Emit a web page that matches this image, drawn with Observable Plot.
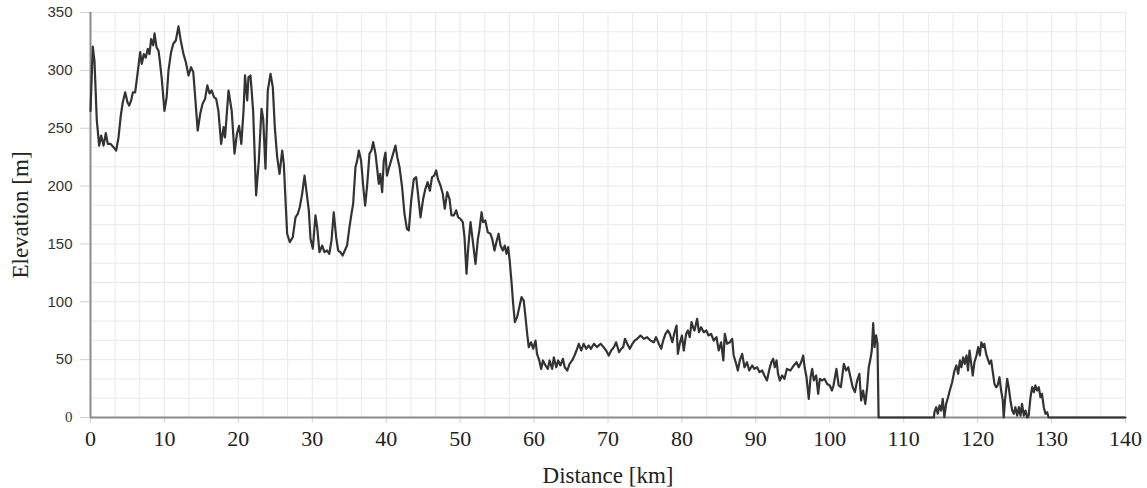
<!DOCTYPE html>
<html><head><meta charset="utf-8">
<script src="https://cdn.jsdelivr.net/npm/d3@7"></script>
<script src="https://cdn.jsdelivr.net/npm/@observablehq/plot@0.6"></script>
<style>html,body{margin:0;padding:0;background:#fff}#chart{width:1147px;height:488px}</style>
</head><body><div id="chart"></div>
<script>
const distanceKm = [
0,0.31,0.54,0.85,1.17,1.44,1.76,2.07,2.34,2.7,3.11,3.47,3.79,4.1,4.37,4.69,5.0,5.23,5.5,5.73,6.04,6.36,6.72,6.94,7.21,7.48,7.75,7.98,8.2,8.48,8.66,8.93,9.2,9.37,9.64,10.0,10.3,10.55,10.9,11.2,11.54,11.9,12.2,12.58,12.9,13.26,13.6,13.9,14.16,14.5,14.84,15.15,15.5,15.8,16.1,16.4,16.7,17.0,17.3,17.67,18.0,18.2,18.67,19.1,19.48,19.8,20.1,20.4,20.7,20.9,21.2,21.37,
21.64,22.0,22.4,22.77,23.13,23.36,23.67,23.98,24.35,24.66,24.93,25.25,25.57,25.93,26.15,26.38,26.6,26.96,27.36,27.73,28.04,28.3,28.63,28.95,29.2,29.53,29.76,30.07,30.43,30.66,30.97,31.34,31.65,32.0,32.3,32.6,32.9,33.23,33.5,33.8,34.1,34.4,34.7,35.03,35.3,35.53,35.84,36.07,36.3,36.6,36.9,37.15,37.4,37.74,38.0,38.24,38.55,38.8,39.0,39.2,39.45,39.67,39.9,40.1,40.4,40.8,41.25,41.5,41.8,42.15,42.47,42.8,43.05,43.38,43.73,44.05,44.3,
44.64,45.0,45.3,45.6,45.9,46.2,46.5,46.76,47.0,47.34,47.65,47.92,48.25,48.56,48.83,49.14,49.46,49.73,50.05,50.36,50.59,50.86,51.1,51.4,51.7,52.08,52.4,52.6,52.9,53.1,53.4,53.74,54.1,54.33,54.65,54.9,55.2,55.46,55.77,56.04,56.27,56.5,56.7,56.97,57.17,57.4,57.7,58.0,58.3,58.6,58.84,59.07,59.28,59.6,59.88,60.2,60.4,60.7,60.96,61.2,61.54,61.86,62.1,62.45,62.67,63.0,63.26,63.57,63.9,64.15,64.5,64.8,65.15,65.47,65.74,66.05,66.37,66.7,67.05,67.4,
67.7,68.1,68.5,69.0,69.4,69.75,70.1,70.43,70.8,71.1,71.5,71.8,72.05,72.3,72.6,72.95,73.3,73.6,73.95,74.4,74.85,75.3,75.75,76.2,76.5,76.87,77.2,77.46,77.78,78.1,78.36,78.7,79.0,79.27,79.45,79.7,80.0,80.25,80.57,80.8,81.06,81.3,81.5,81.7,82.06,82.3,82.6,82.95,83.3,83.6,83.95,84.3,84.67,84.98,85.3,85.6,85.8,86.1,86.47,86.8,87.0,87.34,87.56,87.83,88.15,88.46,88.8,89.1,89.5,89.8,90.17,90.5,90.85,91.16,91.5,91.84,92.1,92.34,92.56,92.8,93.0,
93.24,93.55,93.87,94.2,94.68,95.13,95.5,95.8,96.13,96.4,96.6,96.85,97.16,97.4,97.62,97.84,98.16,98.43,98.65,98.97,99.28,99.65,100.0,100.3,100.5,100.9,101.2,101.5,101.9,102.2,102.5,102.8,103.1,103.4,103.7,104.0,104.24,104.5,104.8,105.06,105.27,105.5,105.68,105.87,106.05,106.27,106.45,106.6,114.07,
114.16,114.4,114.6,114.84,115.06,115.28,115.5,115.74,116.0,116.23,116.55,116.87,117.13,117.37,117.6,117.8,118.04,118.26,118.5,118.7,118.9,119.1,119.34,119.57,119.84,120.07,120.3,120.5,120.75,120.9,121.15,121.37,121.6,121.83,122.05,122.28,122.5,122.7,122.95,123.18,123.4,123.53,123.7,124.0,124.2,124.44,124.67,124.9,125.1,125.35,125.57,125.8,126.0,126.25,126.47,126.7,126.9,127.15,127.37,127.6,127.8,128.05,128.27,128.5,128.7,128.95,129.17,129.4,129.6,140
];
const elevationM = [
265,320.6,308,257,235,243.7,235,245.7,236.5,236.5,233.6,230.7,242,261,272.5,281,272.5,269.6,274,281,281,297,315.7,305.6,314,311,318.6,314,327,321.5,332,320,317,308.5,292.7,265,276.8,300,315.7,323,325.8,338,326,314,307,295.6,302.7,298.5,276.8,248,262.5,271,275.4,287,280,282.6,276.8,275.4,265,236.5,251,242,282.6,265,228,245,252,236.5,265,295.6,274,294,
295.6,265,192,222,266.8,258,215,282.6,297,285.4,251,225,210.6,230.7,219,187.5,158.8,151.5,155.8,173,176,181.7,193.3,209,196,179,154.4,146,174.6,164.5,142.9,148.6,142.9,144.3,141.5,153,177.4,155.8,144.3,142.9,140,144.3,148.6,164.5,176,184.7,216.3,222,230.7,222,199,183,199,228,230.7,238,228,213.5,202,210.6,194.7,222,229,209,216.3,225,235,225,216.3,199,176,163,161.6,187.5,206,207.7,193.3,
173,189,197.6,203.4,196,207.7,209,213.5,206,200.5,193.3,180.4,194.7,189,174.6,174.6,179,173,171.7,168.8,155.8,124.2,147.2,168.8,153,132.8,154.4,161.6,177.4,168.8,170.3,160,158.8,154.4,144.3,151.5,158.8,148.6,144.3,148.6,141.5,147.2,135.7,115.5,98.3,82.4,86.7,95.3,104,101,86.7,72.3,60.8,65,59.4,66.5,55,49.3,42,49.3,45,42,49.3,42,52,43.4,49.3,45,50.7,43.4,40.6,46.4,49.3,53.6,57.9,63.7,57.9,63.7,59.4,62.2,
59.4,63.7,60.8,63.7,60.8,57.9,53.6,57.9,60.8,65,56.4,59.4,60.8,68,63.7,59.4,63.7,66.5,68,70.9,68,69.4,66.5,65,69.4,63.7,59.4,66.5,72.3,75.2,72.3,65,73.7,79.5,55,63.7,70.9,57.9,72.3,75.2,69.4,82.4,78,75.2,85.3,73.7,78,73.7,75.2,70.9,72.3,66.5,69.4,57.9,65,49.3,72.3,63.7,65,68,53.6,46.4,40.6,49.3,55,43.4,47.8,40.6,45,42,43.4,39.2,40.6,36.3,32,42,47.8,50.7,43.4,49.3,37.8,
32,36.3,33.4,42,40.6,45,47.8,43.4,47.8,53.6,43.4,34.8,16.1,34.8,42,32,36.3,20.5,33.4,32,33.4,29,27.7,23.3,27.7,42,27.7,26.2,46.4,40.6,43.4,34.8,26.2,21.9,32,37.8,14.7,23.3,11.8,26.2,43.4,50.7,57.9,81.5,60.8,70.9,63.7,0,0,
4.6,8.9,3.2,10.4,6,16.1,0.3,11.8,17.5,23.3,30.5,40.6,45,37.8,49.3,43.4,52,46.4,53.6,40.6,57.9,47.8,36.3,47.8,53.6,60.8,53.6,65,60.8,63.7,55,50.7,46.4,49.3,39.2,29,26.2,27.7,34.8,23.3,14.7,0,14.7,33.4,26.2,14.7,6,3.2,8.9,1.7,8.9,1.7,11.8,1.7,6,0,1.7,17.5,26.2,21.9,27.7,23.3,26.2,17.5,20.5,8.9,3.2,4.6,0,0
];
const xTicks = [0,10,20,30,40,50,60,70,80,90,100,110,120,130,140];
const yTicks = [0,50,100,150,200,250,300,350];
const xLabel = "Distance [km]";
const yLabel = "Elevation [m]";

const profile = distanceKm.map((d, i) => ({distance: d, elevation: elevationM[i]}));
const serif = "'Liberation Serif','Times New Roman',serif";
const sans = "'Liberation Sans',Arial,sans-serif";
const gridX = d3.range(0, 140 + 1e-6, 10 / 3);
const gridY = d3.range(0, 350 + 1e-6, 50 / 3);

const chart = Plot.plot({
  width: 1147, height: 488,
  marginLeft: 90, marginRight: 22, marginTop: 12, marginBottom: 71,
  x: {domain: [0, 140]},
  y: {domain: [0, 350]},
  style: {background: "#fff", fontFamily: serif, color: "#222"},
  marks: [
    Plot.ruleX(gridX, {stroke: "#e9e9e9", strokeWidth: 1}),
    Plot.ruleY(gridY, {stroke: "#e9e9e9", strokeWidth: 1}),
    Plot.axisX({ticks: xTicks, tickSize: 6, tickPadding: 7, stroke: "#d2d2d2", fill: "#222", fontSize: 22, fontFamily: serif, label: null}),
    Plot.axisY({ticks: yTicks.filter(v => v > 0), tickSize: 10, tickPadding: 8, stroke: "#d2d2d2", fill: "#333", fontSize: 15, fontFamily: sans, label: null}),
    Plot.axisY({ticks: yTicks.filter(v => v === 0), tickSize: 10, tickPadding: 8, stroke: "#d2d2d2", fill: "#333", fontSize: 15, fontFamily: serif, label: null}),
    Plot.ruleX([0], {stroke: "#8c8c8c", strokeWidth: 2}),
    Plot.ruleY([0], {stroke: "#8c8c8c", strokeWidth: 2}),
    Plot.lineY(profile, {x: "distance", y: "elevation", stroke: "#333", strokeWidth: 2.2}),
    Plot.text([xLabel], {frameAnchor: "bottom", textAnchor: "middle", lineAnchor: "middle", dy: 58, fontSize: 23, fontFamily: serif, fill: "#222"}),
    Plot.text([yLabel], {frameAnchor: "left", textAnchor: "middle", lineAnchor: "middle", dx: -70, rotate: -90, fontSize: 23, fontFamily: serif, fill: "#222"})
  ]
});
document.getElementById("chart").appendChild(chart);
</script>
</body></html>
